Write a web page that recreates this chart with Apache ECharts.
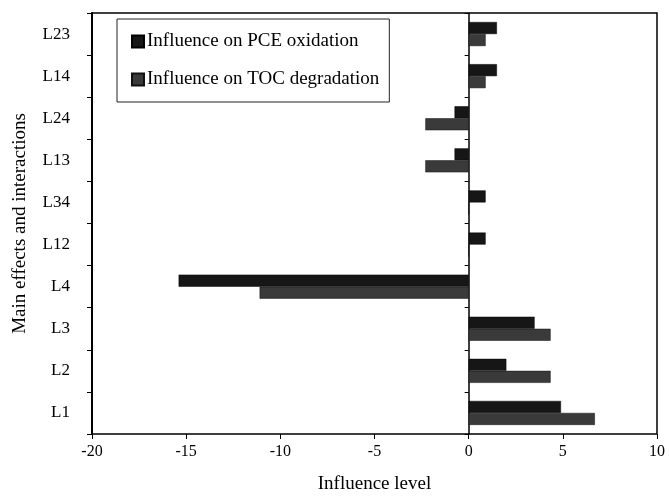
<!DOCTYPE html>
<html><head><meta charset="utf-8">
<script src="https://cdn.jsdelivr.net/npm/echarts@6/dist/echarts.min.js"></script>
<style>html,body{margin:0;padding:0;background:#fff}#c{width:669px;height:499px}</style>
</head><body><div id="c"></div>
<script>
const categories = ['L1','L2','L3','L4','L12','L34','L13','L24','L14','L23'];
const pceValues = [4.9, 2.0, 3.5, -15.4, 0.9, 0.9, -0.75, -0.75, 1.5, 1.5];
const tocValues = [6.7, 4.35, 4.35, -11.1, 0, 0, -2.3, -2.3, 0.9, 0.9];
const xTicks = [-20, -15, -10, -5, 0, 5, 10];
const seriesNames = ['Influence on PCE oxidation', 'Influence on TOC degradation'];

const font = '"Liberation Serif", "Times New Roman", serif';
const chart = echarts.init(document.getElementById('c'));
chart.setOption({
  animation: false,
  backgroundColor: '#fff',
  grid: {left: 92, right: 12, top: 13, bottom: 62, show: true, borderColor: '#000', borderWidth: 1.5, containLabel: false},
  legend: {
    data: seriesNames,
    orient: 'vertical',
    left: 117, top: 19,
    padding: [13, 10, 13, 14],
    itemGap: 19,
    icon: 'rect',
    itemWidth: 12, itemHeight: 12,
    borderColor: '#222', borderWidth: 1,
    textStyle: {fontFamily: font, fontSize: 19, color: '#000', padding: [0, 0, 0, -2]}
  },
  xAxis: {
    type: 'value', min: xTicks[0], max: xTicks[xTicks.length-1], interval: 5,
    splitLine: {show: false},
    axisLine: {onZero: false, lineStyle: {color: '#000', width: 2}},
    axisTick: {show: true, length: 5, lineStyle: {color: '#000'}},
    axisLabel: {fontFamily: font, fontSize: 16, color: '#000', margin: 10},
    name: 'Influence level', nameLocation: 'middle', nameGap: 41,
    nameTextStyle: {fontFamily: font, fontSize: 19, color: '#000'}
  },
  yAxis: [{
    type: 'category', data: categories,
    axisLine: {onZero: false, lineStyle: {color: '#000', width: 2}},
    axisTick: {show: true, length: 5, lineStyle: {color: '#000'}},
    axisLabel: {fontFamily: font, fontSize: 17, color: '#000', margin: 22},
    name: 'Main effects and interactions', nameLocation: 'middle', nameGap: 62,
    nameTextStyle: {fontFamily: font, fontSize: 19, color: '#000'}
  }, {
    type: 'category', data: categories, position: 'left',
    axisLine: {onZero: true, lineStyle: {color: '#000', width: 1.5}},
    axisTick: {show: true, length: 4, lineStyle: {color: '#000'}},
    axisLabel: {show: false}
  }],
  series: [
    {name: seriesNames[0], type: 'bar', data: pceValues, barWidth: 12, barGap: '0%',
     itemStyle: {color: '#161616', borderColor: '#000', borderWidth: 0.5}},
    {name: seriesNames[1], type: 'bar', data: tocValues, barWidth: 12, barGap: '0%',
     itemStyle: {color: '#3a3a3a', borderColor: '#111', borderWidth: 0.5}}
  ]
});
</script></body></html>
